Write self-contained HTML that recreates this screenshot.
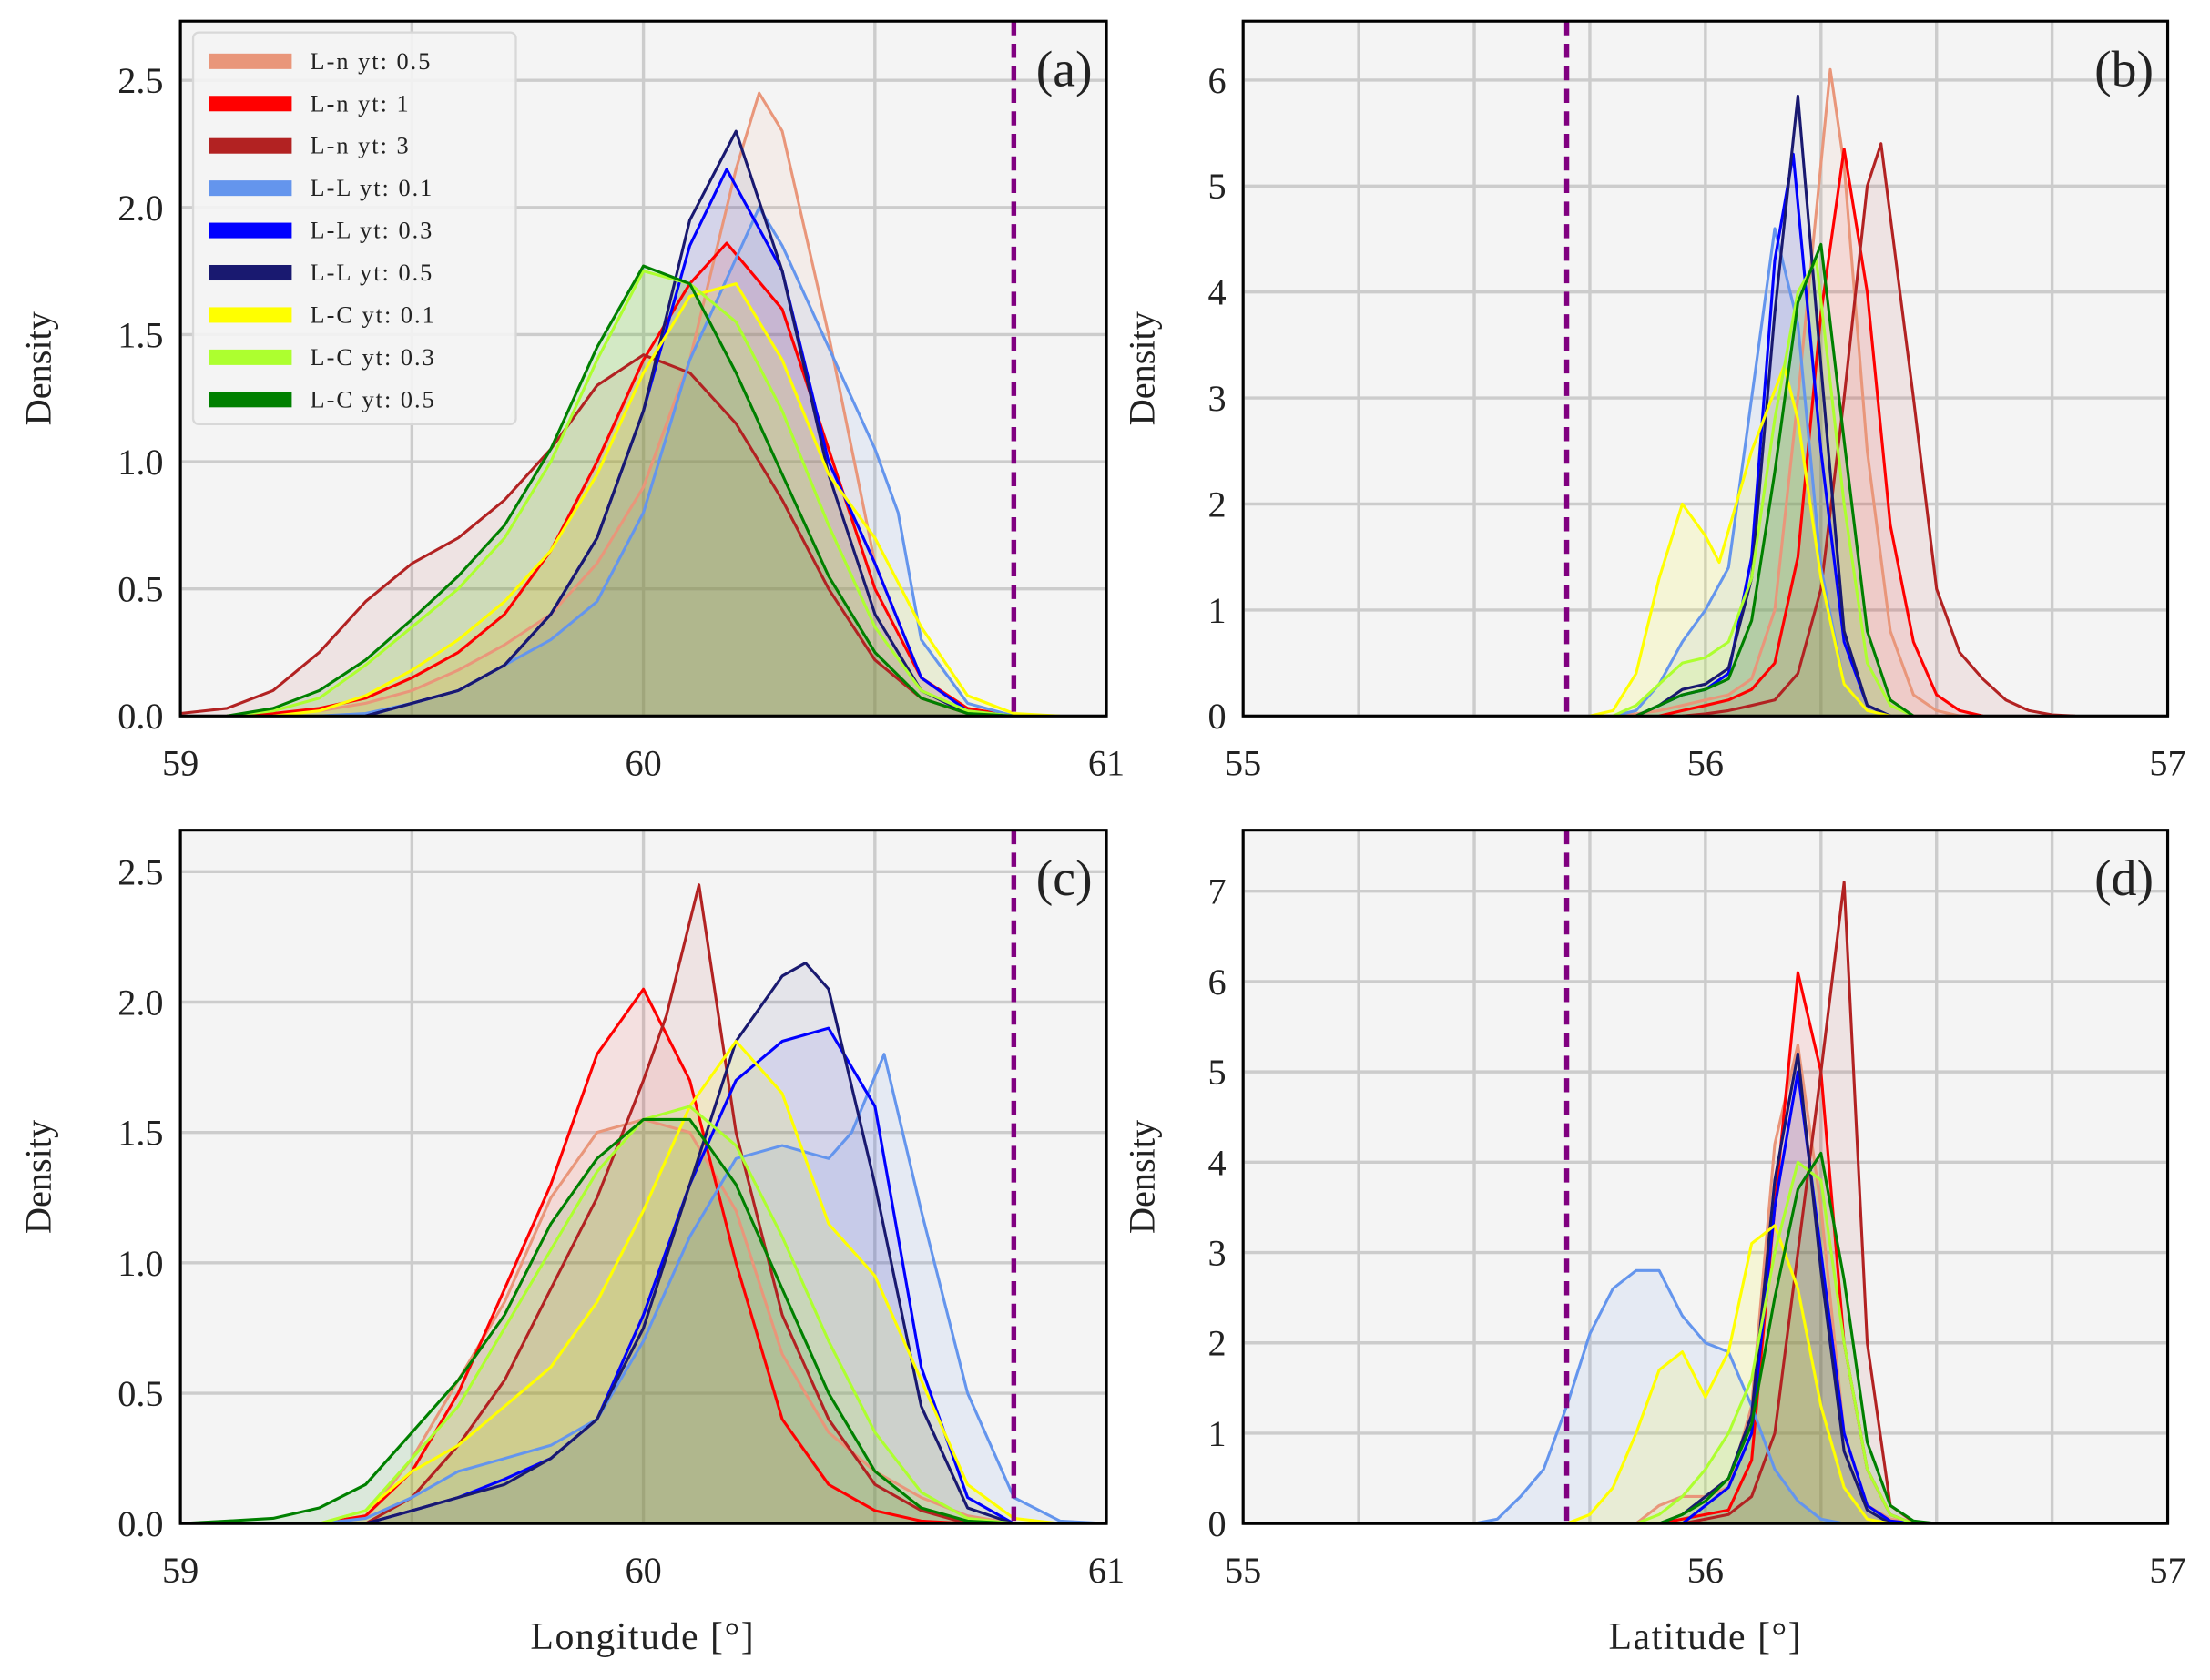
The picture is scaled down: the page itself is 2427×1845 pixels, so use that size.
<!DOCTYPE html>
<html><head><meta charset="utf-8">
<style>
html,body{margin:0;padding:0;background:#fff;}
svg{display:block;}
text{font-family:"Liberation Serif",serif;fill:#222;}
</style></head>
<body>
<svg id="chart" width="2427" height="1845" viewBox="0 0 1568 1192" xmlns="http://www.w3.org/2000/svg"></svg>
<script>
// ---------- data ----------
const seriesNames = ["L-n yt: 0.5","L-n yt: 1","L-n yt: 3","L-L yt: 0.1","L-L yt: 0.3","L-L yt: 0.5","L-C yt: 0.1","L-C yt: 0.3","L-C yt: 0.5"];
const seriesKeys = ["ln05","ln1","ln3","ll01","ll03","ll05","lc01","lc03","lc05"];
const xTicksLon = [59,60,61];
const xTicksLat = [55,56,57];
const yTicksA = [0,0.5,1.0,1.5,2.0,2.5];
const yTicksB = [0,1,2,3,4,5,6];
const yTicksC = [0,0.5,1.0,1.5,2.0,2.5];
const yTicksD = [0,1,2,3,4,5,6,7];
const markerLon = 60.8;
const markerLat = 55.7;

// Panel (a)
const a_ln05=[[59.1,0],[59.2,0.01],[59.3,0.02],[59.4,0.05],[59.5,0.1],[59.6,0.18],[59.7,0.28],[59.8,0.4],[59.9,0.6],[60.0,0.9],[60.1,1.4],[60.2,2.15],[60.25,2.45],[60.3,2.3],[60.4,1.5],[60.5,0.6],[60.6,0.15],[60.7,0.02],[60.8,0]];
const a_ln1=[[59.1,0],[59.2,0.01],[59.3,0.03],[59.4,0.07],[59.5,0.15],[59.6,0.25],[59.7,0.4],[59.8,0.65],[59.9,1.0],[60.0,1.4],[60.1,1.7],[60.18,1.86],[60.3,1.6],[60.4,1.05],[60.5,0.5],[60.6,0.15],[60.7,0.03],[60.8,0]];
const a_ln3=[[59.0,0.01],[59.1,0.03],[59.2,0.1],[59.3,0.25],[59.4,0.45],[59.5,0.6],[59.6,0.7],[59.7,0.85],[59.8,1.05],[59.9,1.3],[60.0,1.42],[60.1,1.35],[60.2,1.15],[60.3,0.85],[60.4,0.5],[60.5,0.22],[60.6,0.07],[60.7,0.01],[60.8,0]];
const a_ll01=[[59.3,0],[59.4,0.01],[59.5,0.05],[59.6,0.1],[59.7,0.2],[59.8,0.3],[59.9,0.45],[60.0,0.8],[60.1,1.4],[60.2,1.8],[60.25,2.0],[60.3,1.85],[60.4,1.45],[60.5,1.05],[60.55,0.8],[60.6,0.3],[60.7,0.05],[60.8,0]];
const a_ll03=[[59.4,0],[59.5,0.05],[59.6,0.1],[59.7,0.2],[59.8,0.4],[59.9,0.7],[60.0,1.2],[60.1,1.85],[60.18,2.15],[60.3,1.75],[60.4,1.0],[60.5,0.6],[60.6,0.15],[60.7,0.02],[60.8,0]];
const a_ll05=[[59.4,0],[59.5,0.05],[59.6,0.1],[59.7,0.2],[59.8,0.4],[59.9,0.7],[60.0,1.2],[60.1,1.95],[60.2,2.3],[60.3,1.75],[60.4,0.95],[60.5,0.4],[60.6,0.1],[60.7,0.01],[60.8,0]];
const a_lc01=[[59.2,0],[59.3,0.02],[59.4,0.08],[59.5,0.18],[59.6,0.3],[59.7,0.45],[59.8,0.65],[59.9,0.95],[60.0,1.35],[60.1,1.65],[60.2,1.7],[60.3,1.4],[60.4,0.95],[60.5,0.7],[60.6,0.35],[60.7,0.08],[60.8,0.01],[60.9,0]];
const a_lc03=[[59.1,0],[59.2,0.02],[59.3,0.07],[59.4,0.2],[59.5,0.35],[59.6,0.5],[59.7,0.7],[59.8,1.0],[59.9,1.4],[60.0,1.75],[60.1,1.7],[60.2,1.55],[60.3,1.2],[60.4,0.75],[60.5,0.35],[60.6,0.1],[60.7,0.02],[60.8,0]];
const a_lc05=[[59.1,0],[59.2,0.03],[59.3,0.1],[59.4,0.22],[59.5,0.38],[59.6,0.55],[59.7,0.75],[59.8,1.05],[59.9,1.45],[60.0,1.77],[60.1,1.7],[60.2,1.35],[60.3,0.95],[60.4,0.55],[60.5,0.25],[60.6,0.07],[60.7,0.01],[60.8,0]];

// Panel (b)
const b_ln05=[[55.8,0],[55.85,0.02],[55.9,0.05],[55.95,0.1],[56.0,0.15],[56.05,0.2],[56.1,0.35],[56.15,1.0],[56.2,3.0],[56.27,6.1],[56.3,5.2],[56.35,2.5],[56.4,0.8],[56.45,0.2],[56.5,0.05],[56.55,0]];
const b_ln1=[[55.9,0],[55.95,0.05],[56.0,0.1],[56.05,0.15],[56.1,0.25],[56.15,0.5],[56.2,1.5],[56.25,3.8],[56.3,5.35],[56.35,4.0],[56.4,1.8],[56.45,0.7],[56.5,0.2],[56.55,0.05],[56.6,0]];
const b_ln3=[[55.95,0],[56.0,0.02],[56.05,0.05],[56.1,0.1],[56.15,0.15],[56.2,0.4],[56.25,1.2],[56.3,3.0],[56.35,5.0],[56.38,5.4],[56.45,3.0],[56.5,1.2],[56.55,0.6],[56.6,0.35],[56.65,0.15],[56.7,0.05],[56.75,0.01],[56.8,0]];
const b_ll01=[[55.8,0],[55.85,0.05],[55.9,0.3],[55.95,0.7],[56.0,1.0],[56.05,1.4],[56.1,3.0],[56.15,4.6],[56.2,3.7],[56.25,1.4],[56.3,0.3],[56.35,0.05],[56.4,0]];
const b_ll03=[[55.85,0],[55.9,0.1],[55.95,0.2],[56.0,0.25],[56.05,0.4],[56.1,1.5],[56.15,4.3],[56.19,5.3],[56.25,2.5],[56.3,0.7],[56.35,0.1],[56.4,0]];
const b_ll05=[[55.85,0],[55.9,0.1],[55.95,0.25],[56.0,0.3],[56.05,0.45],[56.1,1.3],[56.15,3.8],[56.2,5.85],[56.25,3.3],[56.3,0.8],[56.35,0.1],[56.4,0]];
const b_lc01=[[55.75,0],[55.8,0.05],[55.85,0.4],[55.9,1.3],[55.95,2.0],[56.0,1.7],[56.03,1.45],[56.1,2.5],[56.17,3.3],[56.2,2.8],[56.25,1.3],[56.3,0.3],[56.35,0.05],[56.4,0]];
const b_lc03=[[55.8,0],[55.85,0.1],[55.9,0.3],[55.95,0.5],[56.0,0.55],[56.05,0.7],[56.1,1.3],[56.15,2.8],[56.2,4.0],[56.24,4.3],[56.3,2.0],[56.35,0.5],[56.4,0.1],[56.45,0]];
const b_lc05=[[55.85,0],[55.9,0.1],[55.95,0.2],[56.0,0.25],[56.05,0.35],[56.1,0.9],[56.15,2.3],[56.2,3.9],[56.25,4.45],[56.3,2.6],[56.35,0.8],[56.4,0.15],[56.45,0]];

// Panel (c)
const c_ln05=[[59.3,0],[59.4,0.02],[59.5,0.25],[59.6,0.55],[59.7,0.85],[59.8,1.25],[59.9,1.5],[60.0,1.55],[60.1,1.5],[60.2,1.2],[60.3,0.65],[60.4,0.35],[60.5,0.2],[60.6,0.1],[60.7,0.03],[60.8,0]];
const c_ln1=[[59.3,0],[59.4,0.03],[59.5,0.2],[59.6,0.5],[59.7,0.9],[59.8,1.3],[59.9,1.8],[60.0,2.05],[60.1,1.7],[60.2,1.0],[60.3,0.4],[60.4,0.15],[60.5,0.05],[60.6,0.01],[60.7,0]];
const c_ln3=[[59.4,0],[59.5,0.1],[59.6,0.3],[59.7,0.55],[59.8,0.9],[59.9,1.25],[60.0,1.7],[60.05,1.95],[60.12,2.45],[60.2,1.5],[60.3,0.8],[60.4,0.4],[60.5,0.15],[60.6,0.05],[60.7,0]];
const c_ll01=[[59.3,0],[59.4,0.02],[59.5,0.1],[59.6,0.2],[59.7,0.25],[59.8,0.3],[59.9,0.4],[60.0,0.7],[60.1,1.1],[60.2,1.4],[60.3,1.45],[60.4,1.4],[60.45,1.5],[60.52,1.8],[60.6,1.2],[60.7,0.5],[60.8,0.1],[60.9,0.01],[61.0,0]];
const c_ll03=[[59.4,0],[59.5,0.05],[59.6,0.1],[59.7,0.17],[59.8,0.25],[59.9,0.4],[60.0,0.8],[60.1,1.3],[60.2,1.7],[60.3,1.85],[60.4,1.9],[60.5,1.6],[60.6,0.6],[60.7,0.1],[60.8,0]];
const c_ll05=[[59.4,0],[59.5,0.05],[59.6,0.1],[59.7,0.15],[59.8,0.25],[59.9,0.4],[60.0,0.75],[60.1,1.3],[60.2,1.85],[60.3,2.1],[60.35,2.15],[60.4,2.05],[60.5,1.3],[60.6,0.45],[60.7,0.06],[60.8,0]];
const c_lc01=[[59.3,0],[59.4,0.05],[59.5,0.2],[59.6,0.3],[59.7,0.45],[59.8,0.6],[59.9,0.85],[60.0,1.2],[60.1,1.6],[60.2,1.85],[60.3,1.65],[60.4,1.15],[60.5,0.95],[60.6,0.55],[60.7,0.15],[60.8,0.02],[60.9,0]];
const c_lc03=[[59.3,0],[59.4,0.05],[59.5,0.25],[59.6,0.45],[59.7,0.75],[59.8,1.05],[59.9,1.35],[60.0,1.55],[60.1,1.6],[60.2,1.45],[60.3,1.1],[60.4,0.7],[60.5,0.35],[60.6,0.12],[60.7,0.02],[60.8,0]];
const c_lc05=[[59.0,0],[59.1,0.01],[59.2,0.02],[59.3,0.06],[59.4,0.15],[59.5,0.35],[59.6,0.55],[59.7,0.8],[59.8,1.15],[59.9,1.4],[60.0,1.55],[60.1,1.55],[60.2,1.3],[60.3,0.9],[60.4,0.5],[60.5,0.2],[60.6,0.06],[60.7,0.01],[60.8,0]];

// Panel (d)
const d_ln05=[[55.85,0],[55.9,0.2],[55.95,0.3],[56.0,0.3],[56.05,0.4],[56.1,1.3],[56.15,4.2],[56.2,5.3],[56.25,3.5],[56.3,1.0],[56.35,0.2],[56.4,0.05],[56.45,0]];
const d_ln1=[[55.9,0],[55.95,0.05],[56.0,0.1],[56.05,0.15],[56.1,0.7],[56.15,3.5],[56.2,6.1],[56.25,5.0],[56.3,2.0],[56.35,0.6],[56.4,0.1],[56.45,0]];
const d_ln3=[[55.95,0],[56.0,0.05],[56.05,0.1],[56.1,0.3],[56.15,1.0],[56.2,3.0],[56.25,5.0],[56.3,7.1],[56.35,2.0],[56.4,0.2],[56.45,0.02],[56.5,0]];
const d_ll01=[[55.5,0],[55.55,0.05],[55.6,0.3],[55.65,0.6],[55.7,1.3],[55.75,2.1],[55.8,2.6],[55.85,2.8],[55.9,2.8],[55.95,2.3],[56.0,2.0],[56.05,1.9],[56.1,1.3],[56.15,0.6],[56.2,0.25],[56.25,0.05],[56.3,0]];
const d_ll03=[[55.95,0],[56.0,0.2],[56.05,0.4],[56.1,1.0],[56.15,3.5],[56.2,5.0],[56.25,3.0],[56.3,1.0],[56.35,0.2],[56.4,0.03],[56.45,0]];
const d_ll05=[[55.9,0],[55.95,0.1],[56.0,0.3],[56.05,0.5],[56.1,1.2],[56.15,3.8],[56.2,5.2],[56.25,2.8],[56.3,0.8],[56.35,0.15],[56.4,0]];
const d_lc01=[[55.7,0],[55.75,0.1],[55.8,0.4],[55.85,1.0],[55.9,1.7],[55.95,1.9],[56.0,1.4],[56.05,1.9],[56.1,3.1],[56.15,3.3],[56.2,2.6],[56.25,1.3],[56.3,0.4],[56.35,0.05],[56.4,0]];
const d_lc03=[[55.85,0],[55.9,0.1],[55.95,0.3],[56.0,0.6],[56.05,1.0],[56.1,1.6],[56.15,3.0],[56.2,4.0],[56.25,3.8],[56.3,2.0],[56.35,0.6],[56.4,0.1],[56.45,0]];
const d_lc05=[[55.9,0],[55.95,0.1],[56.0,0.25],[56.05,0.5],[56.1,1.1],[56.15,2.5],[56.2,3.7],[56.25,4.1],[56.3,2.7],[56.35,0.9],[56.4,0.2],[56.45,0.03],[56.5,0]];

const colors = ["#E9967A","#FF0000","#B22222","#6495ED","#0000FF","#191970","#FFFF00","#ADFF2F","#008000"];
const fillOp = [0.09,0.08,0.08,0.1,0.07,0.07,0.12,0.12,0.1];

// ---------- drawing ----------
const NS="http://www.w3.org/2000/svg";
const svg=document.getElementById('chart');
function mk(tag,attrs,parent){const e=document.createElementNS(NS,tag);for(const k in attrs)e.setAttribute(k,attrs[k]);(parent||svg).appendChild(e);return e;}

const panels=[
 {id:"a",x0:128,x1:785,y0:15,y1:508,xmin:59,xmax:61,ymax:(508-15)/180.4,yt:yTicksA,xt:xTicksLon,xg:[59,59.5,60,60.5,61],mark:markerLon,data:[a_ln05,a_ln1,a_ln3,a_ll01,a_ll03,a_ll05,a_lc01,a_lc03,a_lc05],ydec:1,ylx:36},
 {id:"b",x0:882,x1:1538,y0:15,y1:508,xmin:55,xmax:57,ymax:(508-15)/75.2,yt:yTicksB,xt:xTicksLat,xg:[55,55.25,55.5,55.75,56,56.25,56.5,56.75,57],mark:markerLat,data:[b_ln05,b_ln1,b_ln3,b_ll01,b_ll03,b_ll05,b_lc01,b_lc03,b_lc05],ydec:0,ylx:819},
 {id:"c",x0:128,x1:785,y0:589,y1:1081,xmin:59,xmax:61,ymax:(1081-589)/185,yt:yTicksC,xt:xTicksLon,xg:[59,59.5,60,60.5,61],mark:markerLon,data:[c_ln05,c_ln1,c_ln3,c_ll01,c_ll03,c_ll05,c_lc01,c_lc03,c_lc05],ydec:1,ylx:36},
 {id:"d",x0:882,x1:1538,y0:589,y1:1081,xmin:55,xmax:57,ymax:(1081-589)/64.1,yt:yTicksD,xt:xTicksLat,xg:[55,55.25,55.5,55.75,56,56.25,56.5,56.75,57],mark:markerLat,data:[d_ln05,d_ln1,d_ln3,d_ll01,d_ll03,d_ll05,d_lc01,d_lc03,d_lc05],ydec:0,ylx:819}
];

panels.forEach(p=>{
  const sx=v=>p.x0+(v-p.xmin)/(p.xmax-p.xmin)*(p.x1-p.x0);
  const sy=v=>p.y1-v/p.ymax*(p.y1-p.y0);
  const g=mk('g',{});
  
  
  const bg=mk('rect',{x:p.x0,y:p.y0,width:p.x1-p.x0,height:p.y1-p.y0,fill:'#f4f4f4'},g);
  
  
  const cp=mk('clipPath',{id:'clip-'+p.id},g);
  mk('rect',{x:p.x0,y:p.y0,width:p.x1-p.x0,height:p.y1-p.y0},cp);
  p.xg.forEach(v=>{const l=mk('line',{x1:sx(v),x2:sx(v),y1:p.y0,y2:p.y1,stroke:'#cccccc','stroke-width':2.2},g);
    });
  p.yt.forEach(v=>{const l=mk('line',{x1:p.x0,x2:p.x1,y1:sy(v),y2:sy(v),stroke:'#cccccc','stroke-width':2.2},g);
    });
  const inner=mk('g',{'clip-path':'url(#clip-'+p.id+')'},g);
  p.data.forEach((s,i)=>{
    let d='M'+sx(s[0][0])+','+sy(0);
    s.forEach(pt=>{d+=' L'+sx(pt[0]).toFixed(1)+','+sy(pt[1]).toFixed(1);});
    d+=' L'+sx(s[s.length-1][0])+','+sy(0)+'Z';
    const f=mk('path',{d:d,fill:colors[i],'fill-opacity':fillOp[i],stroke:'none'},inner);
    
    
  });
  p.data.forEach((s,i)=>{
    let d='';
    s.forEach((pt,j)=>{d+=(j?' L':'M')+sx(pt[0]).toFixed(1)+','+sy(pt[1]).toFixed(1);});
    const l=mk('path',{d:d,fill:'none',stroke:colors[i],'stroke-width':2,'stroke-linejoin':'round'},inner);
    
    
  });
  const m=mk('line',{x1:sx(p.mark),x2:sx(p.mark),y1:p.y0,y2:p.y1,stroke:'#800080','stroke-width':3.5,'stroke-dasharray':'10,6'},g);
  
  
  const fr=mk('rect',{x:p.x0,y:p.y0,width:p.x1-p.x0,height:p.y1-p.y0,fill:'none',stroke:'#000','stroke-width':2},g);
  
  
  p.yt.forEach(v=>{const t=mk('text',{x:p.x0-12,y:sy(v)+9,'text-anchor':'end','font-size':26},g);
    t.textContent=v.toFixed(p.ydec);
    });
  p.xt.forEach(v=>{const t=mk('text',{x:sx(v),y:p.y1+42,'text-anchor':'middle','font-size':26},g);
    t.textContent=String(v);
    });
  const yl=mk('text',{x:0,y:0,'text-anchor':'middle','font-size':26,transform:'translate('+p.ylx+','+((p.y0+p.y1)/2)+') rotate(-90)'},g);
  yl.textContent='Density';
  
  const pl=mk('text',{x:p.x1-10,y:p.y0+46,'text-anchor':'end','font-size':36},g);
  pl.textContent='('+p.id+')';
  
});
const xl1=mk('text',{x:456,y:1170,'text-anchor':'middle','font-size':27,'letter-spacing':'1'});
xl1.textContent='Longitude [°]';


const xl2=mk('text',{x:1210,y:1170,'text-anchor':'middle','font-size':27,'letter-spacing':'1'});
xl2.textContent='Latitude [°]';



// legend
const lg=mk('g',{});


mk('rect',{x:137,y:23,width:229,height:278,rx:4,fill:'#f4f4f4','fill-opacity':0.9,stroke:'#d8d8d8','stroke-width':1.5},lg);
seriesNames.forEach((n,i)=>{
  const y=43+i*30;
  const e=mk('g',{},lg);
  
  
  mk('rect',{x:148,y:y-5,width:59,height:11,fill:colors[i]},e);
  const t=mk('text',{x:220,y:y+6,'font-size':17,'letter-spacing':'1.3'},e);
  t.textContent=n;
});
</script>
</body></html>
